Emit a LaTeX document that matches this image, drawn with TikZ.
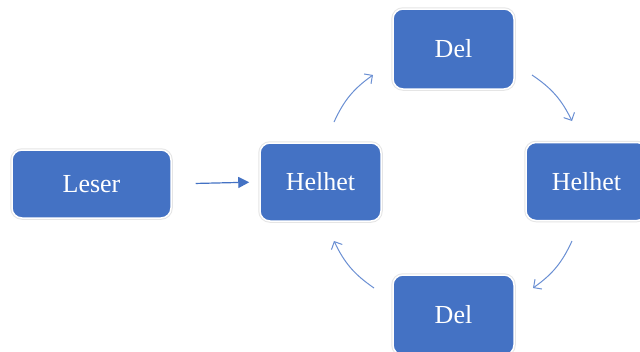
\documentclass[tikz,border=0pt]{standalone}
\usepackage{fontspec}
\setmainfont{Liberation Serif}
\usetikzlibrary{arrows.meta}
\definecolor{boxblue}{HTML}{4472C4}
\definecolor{arrblue}{HTML}{6A8FD3}
\tikzset{
  box/.style={rectangle, rounded corners=10pt, fill=boxblue, draw=white, line width=1.5pt,
    preaction={draw=black!10, line width=3.5pt},
    text=white, font=\fontsize{26}{30}\selectfont, inner sep=0pt},
  curvearr/.style={draw=arrblue, line width=1pt, -{Straight Barb[length=6pt,width=12pt]}},
  straightarr/.style={draw=boxblue, line width=1.2pt, -{Triangle[length=11pt,width=11pt]}}
}
\begin{document}
\begin{tikzpicture}[x=1pt,y=-1pt]
\useasboundingbox (0,0) rectangle (640,351);
\fill[white] (0,0) rectangle (640,351);
\node[box, minimum width=159pt, minimum height=68pt] (le) at (91.5,184) {Leser};
\node[box, minimum width=121pt, minimum height=78pt] (h1) at (320.5,182) {Helhet};
\node[box, minimum width=121pt, minimum height=80pt] (d1) at (453.5,49) {Del};
\node[box, minimum width=121pt, minimum height=78pt] (h2) at (586.5,181.5) {Helhet};
\node[box, minimum width=121pt, minimum height=80pt] (d2) at (453.5,315) {Del};
\draw[straightarr, shorten <=24pt, shorten >=10pt] (le.east) -- (h1.west);
\coordinate (a1) at (334,122);
\coordinate (b1) at (373,75);
\coordinate (a2) at (532,75);
\coordinate (b2) at (572,121);
\coordinate (a3) at (572,241);
\coordinate (b3) at (533,288);
\coordinate (a4) at (374,288);
\coordinate (b4) at (334,241);
\draw[curvearr] (a1) to[bend left=15] (b1);
\draw[curvearr] (a2) to[bend left=15] (b2);
\draw[curvearr] (a3) to[bend left=15] (b3);
\draw[curvearr] (a4) to[bend left=15] (b4);
\end{tikzpicture}
\end{document}
